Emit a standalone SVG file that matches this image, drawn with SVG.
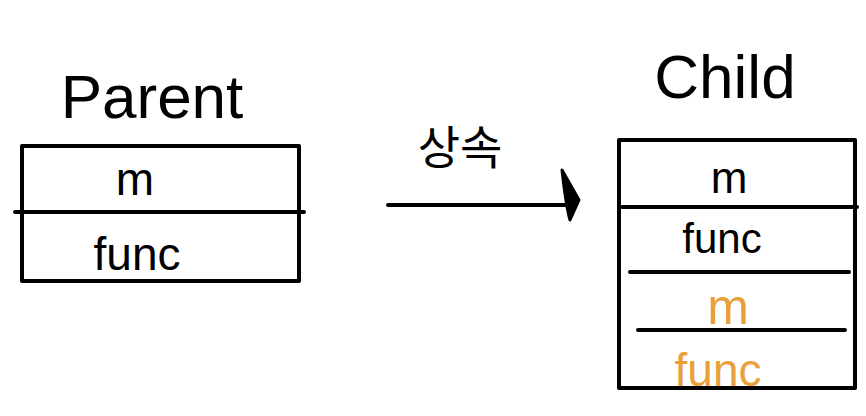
<svg xmlns="http://www.w3.org/2000/svg" width="866" height="416" viewBox="0 0 866 416">
<style>
.box{fill:none;stroke:#000;stroke-width:4;stroke-linejoin:round}
.ln{stroke:#000;stroke-width:4;stroke-linecap:round}
.t{font-family:"Liberation Sans","Noto Sans CJK KR",sans-serif;fill:#000}
.o{fill:#E9A03C}
</style>
<rect width="866" height="416" fill="#fff"/>
<g id="parent">
<text class="t" x="152" y="118" font-size="62" text-anchor="middle">Parent</text>
<rect class="box" x="22" y="146" width="277" height="135"/>
<line class="ln" x1="15" y1="212" x2="304" y2="212"/>
<text class="t" x="135" y="195" font-size="46" text-anchor="middle">m</text>
<text class="t" x="137" y="270" font-size="46" text-anchor="middle">func</text>
</g>
<g id="child">
<text class="t" x="725" y="98" font-size="62" text-anchor="middle">Child</text>
<rect class="box" x="619" y="140" width="236" height="248"/>
<line class="ln" x1="622" y1="207" x2="857" y2="207"/>
<line class="ln" x1="630" y1="272" x2="849" y2="272"/>
<line class="ln" x1="638" y1="330" x2="845" y2="330"/>
<text class="t" x="729" y="193" font-size="44" text-anchor="middle">m</text>
<text class="t" x="722" y="253" font-size="42" text-anchor="middle">func</text>
<text class="t o" x="728" y="324" font-size="50" text-anchor="middle">m</text>
<text class="t o" x="718" y="386" font-size="46" text-anchor="middle">func</text>
</g>
<g id="connectors">
<line class="ln" x1="388" y1="205" x2="568" y2="205"/>
<path d="M562,170 L579,200 L570,220 Q566,206 562,170 Z" fill="#000" stroke="#000" stroke-width="3" stroke-linejoin="round"/>
<text class="t" x="460" y="164" font-size="46" text-anchor="middle">상속</text>
</g>
</svg>
